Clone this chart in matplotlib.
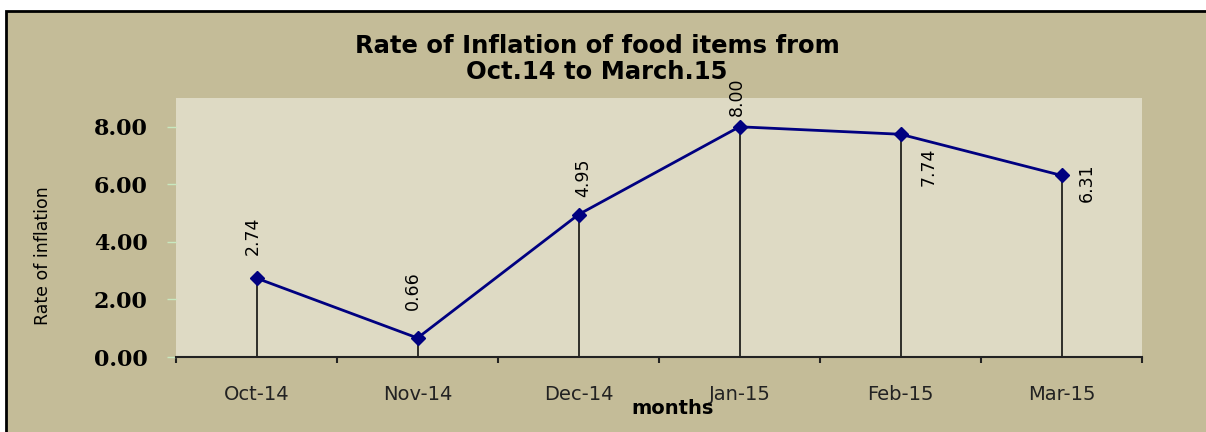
import numpy as np
import matplotlib
matplotlib.use('Agg')
import matplotlib.pyplot as plt
from matplotlib.patches import Rectangle
from matplotlib.ticker import FixedLocator

months = ['Oct-14', 'Nov-14', 'Dec-14', 'Jan-15', 'Feb-15', 'Mar-15']
rates = [2.74, 0.66, 4.95, 8.00, 7.74, 6.31]
rate_labels = ['2.74', '0.66', '4.95', '8.00', '7.74', '6.31']
yticks = [0, 2, 4, 6, 8]

# label offsets in pixels (dx, dy) relative to each point
label_off = [(-4, 42), (-5, 47), (5, 37), (-3, 30), (28, -33), (25, -7)]

bg = '#C4BC98'
plot_bg = '#DEDAC4'
navy = '#000080'

fig = plt.figure(figsize=(12.06, 4.32), dpi=100, facecolor='white')
fig.patches.append(Rectangle((6 / 1206, -0.1), 1.1, 1.1 - 11 / 432,
                             transform=fig.transFigure, facecolor=bg,
                             edgecolor='black', linewidth=2, zorder=-10))

ax = fig.add_axes([176 / 1206, 75 / 432, 966 / 1206, 259 / 432])
ax.set_facecolor(plot_bg)
x = np.arange(len(months))
ax.vlines(x, 0, rates, color='black', linewidth=1.1, zorder=2)
ax.plot(x, rates, color=navy, linewidth=2, marker='D', markersize=7.5,
        markeredgecolor=navy, markerfacecolor=navy, zorder=3)

for xi, yi, lab, (dx, dy) in zip(x, rates, rate_labels, label_off):
    ax.annotate(lab, (xi, yi), xytext=(dx * 0.72, dy * 0.72), textcoords='offset points',
                rotation=90, ha='center', va='center', fontsize=12.5,
                family='DejaVu Sans', color='black')

ax.set_xlim(-0.5, 5.5)
ax.set_ylim(0, 9)
for s in ['left', 'top', 'right']:
    ax.spines[s].set_visible(False)
ax.spines['bottom'].set_color('#222222')
ax.spines['bottom'].set_linewidth(1.5)

ax.set_xticks(x)
ax.set_xticklabels(months, fontsize=14, family='DejaVu Sans', color='#222222')
ax.xaxis.set_minor_locator(FixedLocator(np.arange(-0.5, 6, 1)))
ax.tick_params(axis='x', which='major', length=0, pad=20)
ax.tick_params(axis='x', which='minor', length=4, width=1.5, color='#222222', direction='out')

ax.set_yticks(yticks)
ax.set_yticklabels(['%.2f' % v for v in yticks], fontsize=16,
                   family='DejaVu Serif', fontweight='bold')
ax.tick_params(axis='y', length=6.5, width=1, color='#C8E8C0', pad=14)

fig.text(597 / 1206, 1 - 59 / 432, 'Rate of Inflation of food items from\nOct.14 to March.15',
         ha='center', va='center', fontsize=17.5, fontweight='bold',
         family='DejaVu Sans', linespacing=1.15)
fig.text(673 / 1206, 1 - 408 / 432, 'months', ha='center', va='center',
         fontsize=14, fontweight='bold', family='DejaVu Sans')
fig.text(43 / 1206, 1 - 256 / 432, 'Rate of inflation', ha='center', va='center',
         rotation=90, fontsize=12.5, family='DejaVu Sans')

fig.savefig('out.png', dpi=100, facecolor=fig.get_facecolor())
